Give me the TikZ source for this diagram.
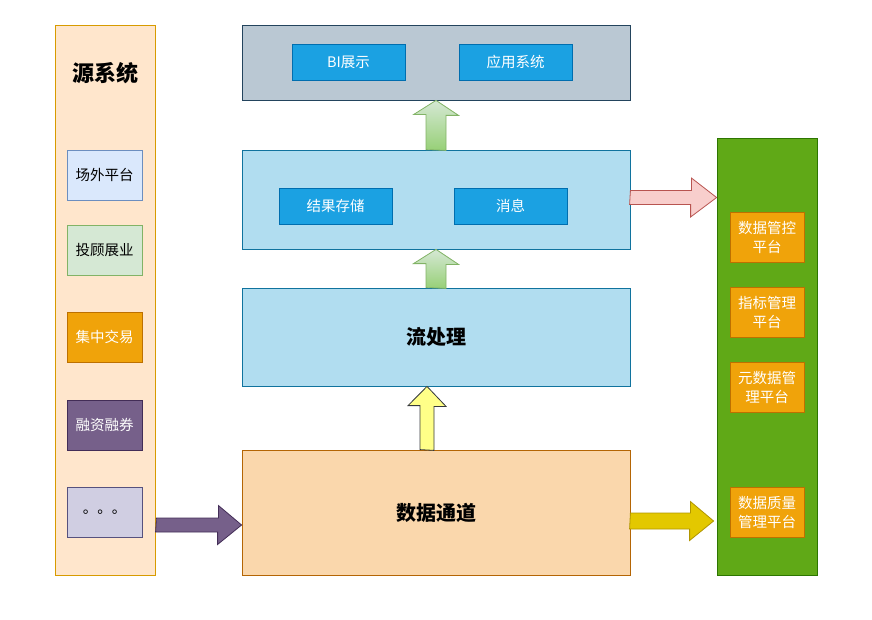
\documentclass[tikz,border=0pt]{standalone}
\usepackage{fontspec}
\setmainfont{Noto Sans CJK SC}
\usetikzlibrary{positioning,calc}

\definecolor{srcfill}{HTML}{FFE6CC}\definecolor{srcline}{HTML}{D79B00}
\definecolor{laneblue}{HTML}{B1DDF0}\definecolor{lanebluel}{HTML}{10739E}
\definecolor{appfill}{HTML}{BAC8D3}\definecolor{appline}{HTML}{23445D}
\definecolor{chipfill}{HTML}{1BA1E2}\definecolor{chipline}{HTML}{006EAF}
\definecolor{chanfill}{HTML}{FAD7AC}\definecolor{chanline}{HTML}{B46504}
\definecolor{govfill}{HTML}{60A917}\definecolor{govline}{HTML}{2D7600}
\definecolor{orgfill}{HTML}{F0A30A}\definecolor{orgline}{HTML}{BD7000}
\definecolor{bluefill}{HTML}{DAE8FC}\definecolor{blueline}{HTML}{6C8EBF}
\definecolor{grnfill}{HTML}{D5E8D4}\definecolor{grnline}{HTML}{82B366}
\definecolor{grndark}{HTML}{97D077}
\definecolor{purfill}{HTML}{76608A}\definecolor{purline}{HTML}{432D57}
\definecolor{lavfill}{HTML}{D0CEE2}\definecolor{lavline}{HTML}{56517E}
\definecolor{yelfill}{HTML}{FFFF88}\definecolor{yelline}{HTML}{36393D}
\definecolor{redfill}{HTML}{F8CECC}\definecolor{redline}{HTML}{B85450}
\definecolor{goldfill}{HTML}{E3C800}\definecolor{goldline}{HTML}{B09500}

\begin{document}
\begin{tikzpicture}[x=1pt,y=-1pt,
    lane/.style={rectangle,draw,line width=0.8pt,inner sep=0pt,minimum width=388pt},
    colbox/.style={rectangle,draw,line width=0.8pt,inner sep=0pt,minimum width=100pt},
    srcbox/.style={rectangle,draw,line width=0.8pt,minimum width=75pt,minimum height=50pt,font=\fontsize{14.5}{17}\selectfont},
    chip/.style={rectangle,draw=chipline,fill=chipfill,line width=0.8pt,text=white,minimum width=113pt,minimum height=36pt,font=\fontsize{14.5}{17}\selectfont},
    govbox/.style={rectangle,draw=orgline,fill=orgfill,line width=0.8pt,text=white,minimum width=74pt,minimum height=50pt,inner sep=0pt,align=center,font=\fontsize{14.5}{19}\selectfont},
    big/.style={font=\bfseries\fontsize{20}{24}\selectfont},
    fat/.style={draw,line width=0.8pt,line join=miter},
    garrow/.style={fat,draw=grnline,top color=grnfill,bottom color=grndark}]
  \useasboundingbox (0,0) rectangle (872,620);
  % columns and layers
  \node[colbox,draw=srcline,fill=srcfill,minimum height=550pt] (src) at (105,300) {};
  \node[font=\bfseries\fontsize{22}{26}\selectfont] (srct) at (105,73) {源系统};
  \node[srcbox,draw=blueline,fill=bluefill] (otc) at (104.5,175) {场外平台};
  \node[srcbox,draw=grnline,fill=grnfill] (adv) at (104.5,250) {投顾展业};
  \node[srcbox,draw=orgline,fill=orgfill,text=white] (cen) at (104.5,337) {集中交易};
  \node[srcbox,draw=purline,fill=purfill,text=white] (mar) at (104.5,425) {融资融券};
  \node[srcbox,draw=lavline,fill=lavfill] (etc) at (104.5,512) {。。。};
  \node[lane,draw=appline,fill=appfill,minimum height=75pt] (app) at (436,62.5) {};
  \node[chip] (bi) at (348.5,62) {BI展示};
  \node[chip] (sys) at (515.5,62) {应用系统};
  \node[lane,draw=lanebluel,fill=laneblue,minimum height=99pt] (res) at (436,199.5) {};
  \node[chip] (store) at (335.5,206) {结果存储};
  \node[chip] (msg) at (510.5,206) {消息};
  \node[lane,draw=lanebluel,fill=laneblue,minimum height=98pt,big] (strm) at (436,337) {流处理};
  \node[lane,draw=chanline,fill=chanfill,minimum height=125pt,big] (chan) at (436,512.5) {数据通道};
  \node[colbox,draw=govline,fill=govfill,minimum height=437pt] (gov) at (767,356.5) {};
  \node[govbox] (ctl) at (767,237) {数据管控\\平台};
  \node[govbox] (kpi) at (767,312.5) {指标管理\\平台};
  \node[govbox] (meta) at (767,387.5) {元数据管\\理平台};
  \node[govbox] (dq) at (767,512.5) {数据质量\\管理平台};
  % block arrows
  \path[garrow] ($(res.north)+(-10,0)$) -- ++(0,-35) -- ++(-12.5,0) -- (app.south)
    -- ++(22.5,15) -- ++(-12.5,0) -- ++(0,35) -- cycle;
  \path[garrow] ($(strm.north)+(-10,0)$) -- ++(0,-24) -- ++(-12.5,0) -- (res.south)
    -- ++(22.5,15) -- ++(-12.5,0) -- ++(0,24) -- cycle;
  \path[fat,draw=yelline,fill=yelfill] ($(chan.north)+(-16,0)$) -- ++(0,-44) -- ++(-12,0)
    -- ($(strm.south)+(-9,0)$) -- ++(19,20) -- ++(-12,0) -- ++(0,44) -- cycle;
  \path[fat,draw=redline,fill=redfill] ($(res.east)+(0,-9)$) -- ++(61,0) -- ++(0,-12.5)
    -- ($(gov.west |- res.east)+(0,-2)$) -- ++(-26,19.5) -- ++(0,-12.5) -- ++(-61,0) -- cycle;
  \path[fat,draw=goldline,fill=goldfill] ($(chan.east)+(0,0.5)$) -- ++(60,0) -- ++(0,-11.5)
    -- ($(gov.west |- chan.east)+(-3,8.5)$) -- ++(-24,19.5) -- ++(0,-11.5) -- ++(-60,0) -- cycle;
  \path[fat,draw=purline,fill=purfill] ($(src.east |- etc)+(1,6)$) -- ++(62,0) -- ++(0,-12.5)
    -- ($(chan.west |- etc)+(0,13)$) -- ++(-24,19.5) -- ++(0,-12.5) -- ++(-62,0) -- cycle;
\end{tikzpicture}
\end{document}
